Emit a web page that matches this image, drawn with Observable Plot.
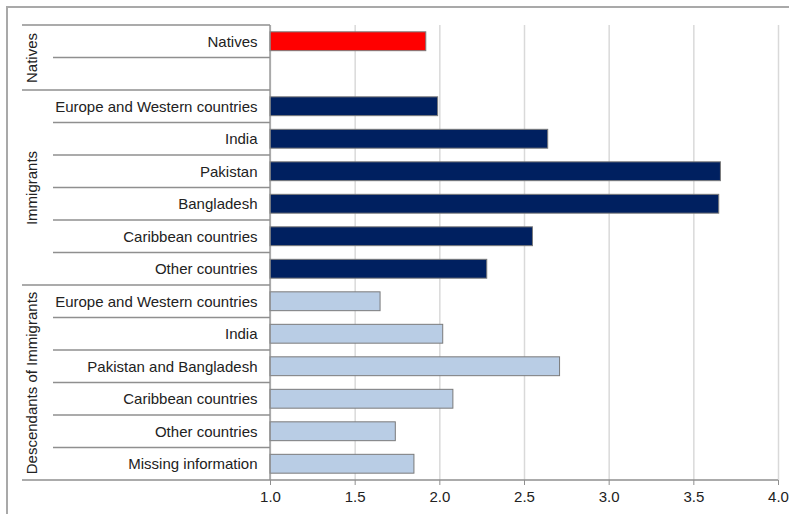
<!DOCTYPE html>
<html>
<head>
<meta charset="utf-8">
<script src="https://cdn.jsdelivr.net/npm/d3@7"></script>
<script src="https://cdn.jsdelivr.net/npm/@observablehq/plot@0.6"></script>
<style>
  html, body { margin: 0; padding: 0; background: #fff; }
  #chart { position: relative; width: 789px; height: 514px; overflow: hidden; }
</style>
</head>
<body>
<div id="chart"></div>
<script>
const groups = ["Natives", "Immigrants", "Descendants of Immigrants"];
const rowLabels = [
  "Natives", "",
  "Europe and Western countries", "India", "Pakistan", "Bangladesh", "Caribbean countries", "Other countries",
  "Europe and Western countries", "India", "Pakistan and Bangladesh", "Caribbean countries", "Other countries", "Missing information"
];
const rowGroup = [0, 0, 1, 1, 1, 1, 1, 1, 2, 2, 2, 2, 2, 2];
const values = [1.92, null, 1.99, 2.64, 3.66, 3.65, 2.55, 2.28, 1.65, 2.02, 2.71, 2.08, 1.74, 1.85];
const groupColors = ["#ff0000", "#002060", "#b9cde5"];
const xTicks = [1.0, 1.5, 2.0, 2.5, 3.0, 3.5, 4.0];

const rows = rowLabels.map((label, i) => ({i, label, group: rowGroup[i], value: values[i]}));
const bars = rows.filter(d => d.value != null);
const groupMid = groups.map((g, gi) => {
  const idx = rows.filter(r => r.group === gi).map(r => r.i);
  return {name: g, y: (d3.min(idx) + d3.max(idx)) / 2};
});
const xMin = xTicks[0];
const half = 0.5;

const font = "'Liberation Sans', Arial, sans-serif";

function tableLines(index, scales, values, dims) {
  const {x, y} = scales;
  const g = d3.create("svg:g");
  const xA = x(xMin);
  const outerL = 22, innerL = 53;
  // border
  g.append("rect").attr("x", 7).attr("y", 7).attr("width", 820).attr("height", 540)
    .attr("fill", "none").attr("stroke", "#a9a9a9").attr("stroke-width", 2);
  const lines = [];
  lines.push({x1: outerL, x2: xA, y: y(rows[0].i - half)});
  for (let k = 0; k < rows.length - 1; k++) {
    const same = rows[k].group === rows[k + 1].group;
    lines.push({x1: same ? innerL : outerL, x2: xA, y: y(rows[k].i + half)});
  }
  lines.push({x1: outerL, x2: x(xTicks[xTicks.length - 1]), y: y(rows[rows.length - 1].i + half)});
  g.selectAll("line.h").data(lines).join("line")
    .attr("x1", d => d.x1).attr("x2", d => d.x2)
    .attr("y1", d => d.y).attr("y2", d => d.y)
    .attr("stroke", "#8f8f8f").attr("stroke-width", 1.3);
  g.append("line")
    .attr("x1", xA).attr("x2", xA)
    .attr("y1", y(rows[0].i - half)).attr("y2", y(rows[rows.length - 1].i + half))
    .attr("stroke", "#8f8f8f").attr("stroke-width", 1.3);
  return g.node();
}

const chart = Plot.plot({
  width: 789,
  height: 514,
  marginTop: 25,
  marginBottom: 34,
  marginLeft: 270,
  marginRight: 11,
  style: {fontFamily: font, fontSize: "15px", color: "#222", background: "transparent", overflow: "visible"},
  x: {domain: [xTicks[0], xTicks[xTicks.length - 1]], ticks: xTicks, tickFormat: d3.format(".1f"), tickSize: 5, tickPadding: 6, label: null},
  y: {domain: [-half, rows.length - half], reverse: true, axis: null},
  marks: [
    Plot.ruleX(xTicks, {stroke: "#d9d9d9", strokeWidth: 1.5}),
    Plot.rectX(bars, {
      x1: xMin, x2: "value",
      y1: d => d.i - 0.29, y2: d => d.i + 0.29,
      fill: d => groupColors[d.group],
      stroke: "#7a7a7a", strokeWidth: 1
    }),
    tableLines,
    Plot.text(rows, {
      x: xMin, y: "i", text: "label",
      dx: -13, textAnchor: "end", fill: "#222", fontSize: 15
    }),
    Plot.text(groupMid, {
      x: xMin, y: "y", text: "name",
      dx: -238, rotate: -90, textAnchor: "middle", fill: "#222", fontSize: 15
    }),
    Plot.axisX({ticks: xTicks, tickFormat: d3.format(".1f"), tickSize: 5, tickPadding: 6, stroke: "#8f8f8f", label: null, fontSize: 15})
  ]
});
document.getElementById("chart").appendChild(chart);
</script>
</body>
</html>
